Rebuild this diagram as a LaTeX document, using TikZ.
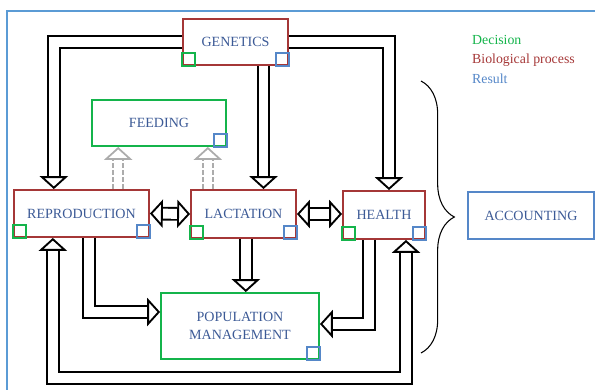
\documentclass[tikz,border=0pt]{standalone}
\usepackage{fontspec}
\setmainfont{Liberation Serif}
\usetikzlibrary{arrows.meta,decorations.pathreplacing}

\definecolor{biored}{RGB}{165,55,55}
\definecolor{decgreen}{RGB}{20,180,75}
\definecolor{resblue}{RGB}{85,135,200}
\definecolor{labblue}{RGB}{60,90,150}
\definecolor{frameblue}{RGB}{91,155,213}

\tikzstyle{unit}=[draw, line width=1.6pt, text=labblue, align=center,
  font=\fontsize{12}{14}\selectfont, inner sep=0pt]
\tikzstyle{bio}=[unit, draw=biored]
\tikzstyle{decision}=[unit, draw=decgreen]
\tikzstyle{result}=[unit, draw=resblue]
\tikzstyle{cornerbox}=[line width=1.4pt]
\tikzstyle{flow}=[draw=black, line width=1.6pt, double=white, double distance=8.5pt,
  -{Triangle[open, length=11pt, width=24pt]}]
\tikzstyle{flows}=[flow, {Triangle[open, length=11pt, width=24pt]}-{Triangle[open, length=11pt, width=24pt]}]
\tikzstyle{feedflow}=[flow, draw=gray!65, line width=1.5pt, dashed, dash pattern=on 4pt off 2pt, double distance=7pt]
\tikzstyle{legend}=[anchor=west, font=\fontsize{11.8}{14}\selectfont, inner sep=0pt]

\begin{document}
\begin{tikzpicture}[x=0.03cm, y=-0.03cm]
  \useasboundingbox (0,0) rectangle (595,389);
  % frame
  \draw[frameblue, line width=2pt] (7,400) -- (7,11) -- (600,11);

  % units
  \node[bio, minimum width=3.15cm, minimum height=1.38cm] (gen) at (235.5,42) {GENETICS};
  \node[decision, minimum width=4.02cm, minimum height=1.38cm] (feed) at (159,123) {FEEDING};
  \node[bio, minimum width=4.05cm, minimum height=1.41cm] (repro) at (81.5,213.5) {REPRODUCTION};
  \node[bio, minimum width=3.15cm, minimum height=1.44cm] (lact) at (243.5,214) {LACTATION};
  \node[bio, minimum width=2.46cm, minimum height=1.44cm] (health) at (384,215) {HEALTH};
  \node[decision, minimum width=4.74cm, minimum height=1.98cm] (pop) at (240,326) {POPULATION\\[2pt]MANAGEMENT};
  \node[result, minimum width=3.78cm, minimum height=1.41cm] (acct) at (531,215.5) {ACCOUNTING};

  % decision / result marks
  \foreach \n in {gen, repro, lact, health} {
    \draw[cornerbox, decgreen] (\n.south west) rectangle ++(13,-13);
  }
  \foreach \n in {gen, feed, repro, lact, health, pop} {
    \draw[cornerbox, resblue] (\n.south east) rectangle ++(-13,-13);
  }

  % legend
  \node[legend, text=decgreen] (legdec) at (472,40) {Decision};
  \node[legend, text=biored] (legbio) at (472,60) {Biological process};
  \node[legend, text=resblue] (legres) at (472,79) {Result};

  % flows
  \draw[flow] (gen.west) -| ([xshift=-0.83cm]repro.north);
  \draw[flow] (gen.east) -| ([xshift=0.15cm]health.north);
  \draw[flow] ([xshift=0.84cm]gen.south) -- ([xshift=0.84cm]gen.south |- lact.north);
  \draw[flows] (repro.east) -- (lact.west);
  \draw[flows] (lact.east) -- ([yshift=0.03cm]health.west);
  \draw[flow] ([xshift=0.07cm]lact.south) -- ([xshift=0.07cm]lact.south |- pop.north);
  \draw[flow] ([xshift=0.22cm]repro.south) |- ([yshift=0.42cm]pop.west);
  \draw[flow] ([xshift=-0.45cm]health.south) |- ([yshift=0.06cm]pop.east);
  \coordinate (low) at (0,378);
  \draw[flows] ([xshift=-0.86cm]repro.south) -- ([xshift=-0.86cm]repro.south |- low)
    -| ([xshift=0.66cm]health.south);
  \draw[feedflow] ([xshift=1.1cm]repro.north) -- ([xshift=1.1cm]repro.north |- feed.south);
  \draw[feedflow] ([xshift=-1.07cm]lact.north) -- ([xshift=-1.07cm]lact.north |- feed.south);

  % accounting brace
  \draw[line width=0.9pt, decorate, decoration={brace, amplitude=1cm}] (421,81) -- (421,353);
\end{tikzpicture}
\end{document}
